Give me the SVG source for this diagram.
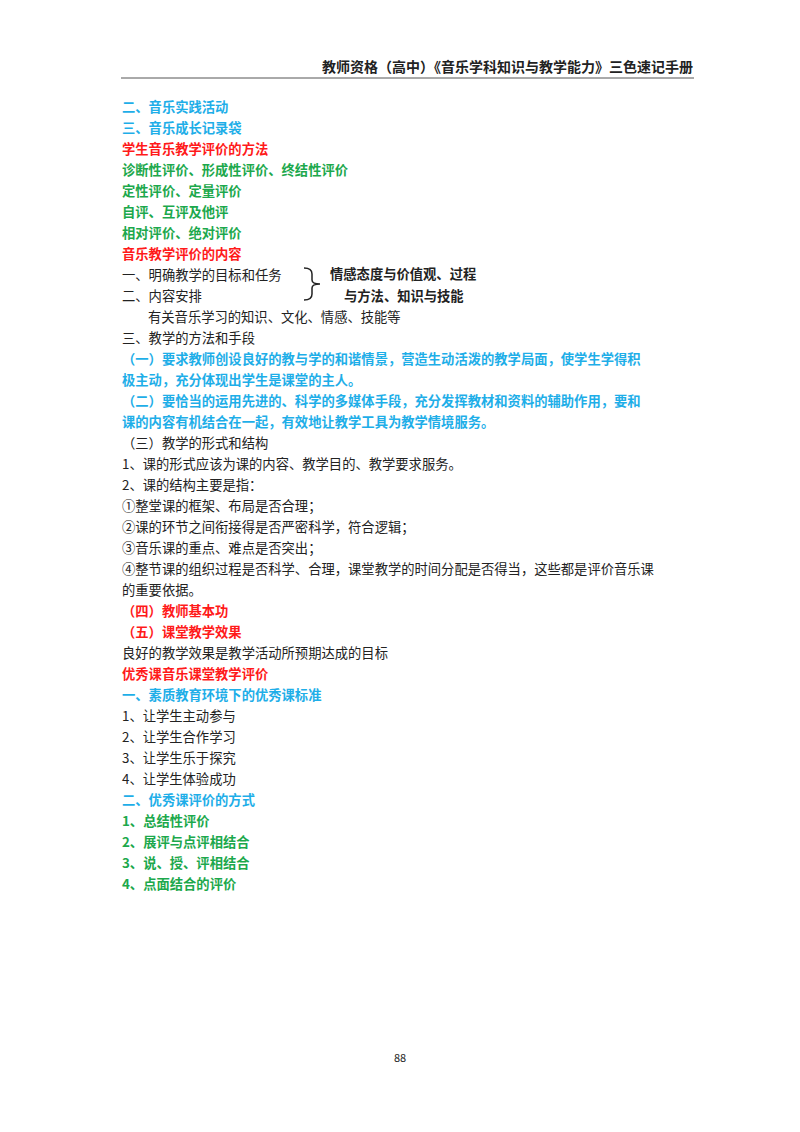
<svg xmlns="http://www.w3.org/2000/svg" width="800" height="1132" viewBox="0 0 800 1132">
<style>
text{font-family:"Noto Sans CJK SC","Liberation Sans",sans-serif;font-size:13.3px;fill:#222}
.b{fill:#1eaee8;font-weight:bold}.r{fill:#ff1a1a;font-weight:bold}.g{fill:#1ca84c;font-weight:bold}.k{font-weight:bold;fill:#222}
</style>
<rect width="800" height="1132" fill="#fff"/>
<text x="693" y="72" text-anchor="end" class="k" style="font-size:14px">教师资格（高中）《音乐学科知识与教学能力》三色速记手册</text>
<line x1="121" y1="78" x2="694" y2="78" stroke="#555" stroke-width="1"/>
<g id="content">
<text x="122" y="112" class="b">二、音乐实践活动</text>
<text x="122" y="133" class="b">三、音乐成长记录袋</text>
<text x="122" y="154" class="r">学生音乐教学评价的方法</text>
<text x="122" y="175" class="g">诊断性评价、形成性评价、终结性评价</text>
<text x="122" y="196" class="g">定性评价、定量评价</text>
<text x="122" y="217" class="g">自评、互评及他评</text>
<text x="122" y="238" class="g">相对评价、绝对评价</text>
<text x="122" y="259" class="r">音乐教学评价的内容</text>
<text x="122" y="280">一、明确教学的目标和任务</text>
<text x="122" y="301">二、内容安排</text>
<g id="bracket"><path d="M304,268 Q312,268 312,274 L312,280 Q312,284 320,284 Q312,284 312,288 L312,294 Q312,300 304,300" fill="none" stroke="#222" stroke-width="1.5"/></g>
<text x="330" y="279" class="k">情感态度与价值观、过程</text>
<text x="344" y="301" class="k">与方法、知识与技能</text>
<text x="148" y="322">有关音乐学习的知识、文化、情感、技能等</text>
<text x="122" y="343">三、教学的方法和手段</text>
<text x="122" y="364" class="b">（一）要求教师创设良好的教与学的和谐情景，营造生动活泼的教学局面，使学生学得积</text>
<text x="122" y="385" class="b">极主动，充分体现出学生是课堂的主人。</text>
<text x="122" y="406" class="b">（二）要恰当的运用先进的、科学的多媒体手段，充分发挥教材和资料的辅助作用，要和</text>
<text x="122" y="427" class="b">课的内容有机结合在一起，有效地让教学工具为教学情境服务。</text>
<text x="122" y="448">（三）教学的形式和结构</text>
<text x="122" y="469">1、课的形式应该为课的内容、教学目的、教学要求服务。</text>
<text x="122" y="490">2、课的结构主要是指：</text>
<text x="122" y="511">①整堂课的框架、布局是否合理；</text>
<text x="122" y="532">②课的环节之间衔接得是否严密科学，符合逻辑；</text>
<text x="122" y="553">③音乐课的重点、难点是否突出；</text>
<text x="122" y="574">④整节课的组织过程是否科学、合理，课堂教学的时间分配是否得当，这些都是评价音乐课</text>
<text x="122" y="595">的重要依据。</text>
<text x="122" y="616" class="r">（四）教师基本功</text>
<text x="122" y="637" class="r">（五）课堂教学效果</text>
<text x="122" y="658">良好的教学效果是教学活动所预期达成的目标</text>
<text x="122" y="679" class="r">优秀课音乐课堂教学评价</text>
<text x="122" y="700" class="b">一、素质教育环境下的优秀课标准</text>
<text x="122" y="721">1、让学生主动参与</text>
<text x="122" y="742">2、让学生合作学习</text>
<text x="122" y="763">3、让学生乐于探究</text>
<text x="122" y="784">4、让学生体验成功</text>
<text x="122" y="805" class="b">二、优秀课评价的方式</text>
<text x="122" y="826" class="g">1、总结性评价</text>
<text x="122" y="847" class="g">2、展评与点评相结合</text>
<text x="122" y="868" class="g">3、说、授、评相结合</text>
<text x="122" y="889" class="g">4、点面结合的评价</text>
</g>
<text x="400" y="1062" text-anchor="middle" style="font-size:11px">88</text>
</svg>
